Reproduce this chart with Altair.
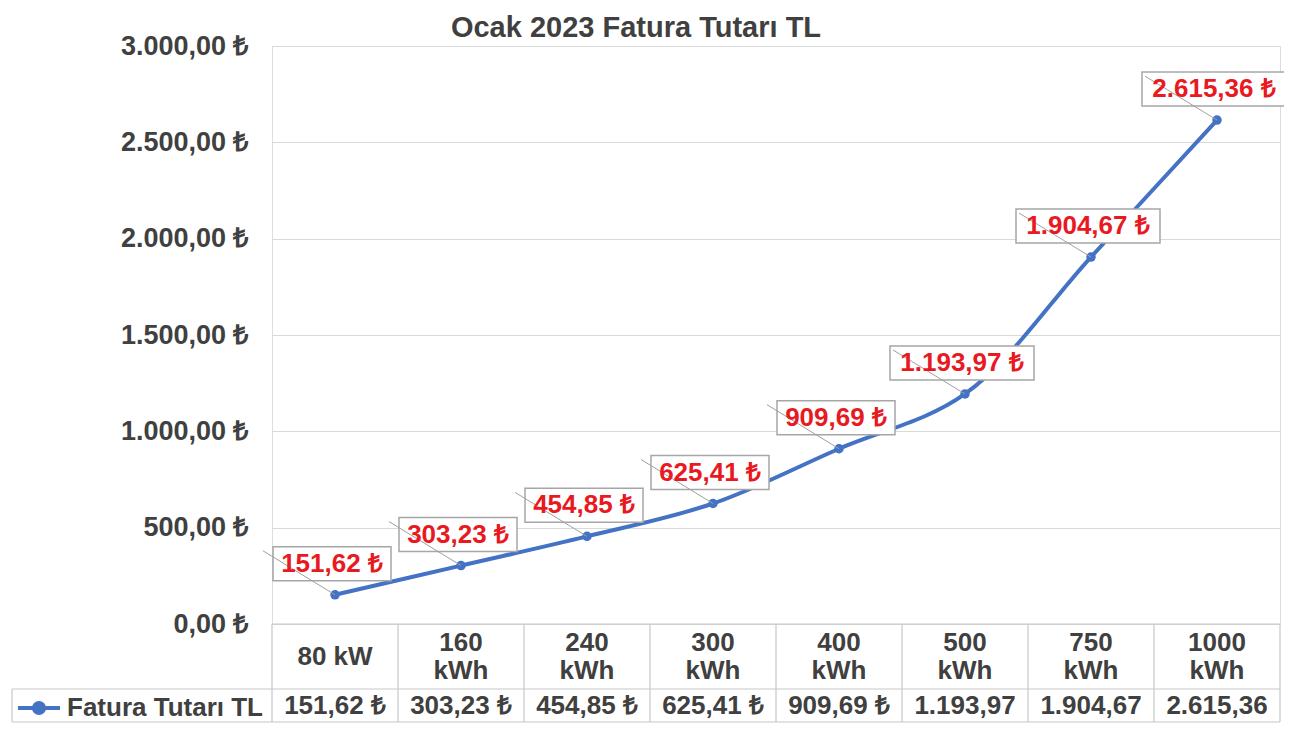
import altair as alt
import pandas as pd

# ---- data -------------------------------------------------------------
categories = ["80 kW", "160\nkWh", "240\nkWh", "300\nkWh", "400\nkWh",
              "500\nkWh", "750\nkWh", "1000\nkWh"]
values = [151.62, 303.23, 454.85, 625.41, 909.69, 1193.97, 1904.67, 2615.36]
table_texts = ["151,62 ₺", "303,23 ₺", "454,85 ₺", "625,41 ₺", "909,69 ₺",
               "1.193,97", "1.904,67", "2.615,36"]
series_name = "Fatura Tutarı TL"
y_ticks = [0, 500, 1000, 1500, 2000, 2500, 3000]
title_text = "Ocak 2023 Fatura Tutarı TL"


def tr_money(v):
    s = f"{v:,.2f}"
    return s.replace(",", "_").replace(".", ",").replace("_", ".") + " ₺"


df = pd.DataFrame({
    "idx": list(range(len(categories))),
    "cat": categories,
    "value": values,
    "label": [tr_money(v) for v in values],
    "table": table_texts,
    "series": [series_name] * len(categories),
})
edges = pd.DataFrame({"e": [i - 0.5 for i in range(len(categories) + 1)]})
one = alt.Data(values=[{"k": 0}])

# ---- layout -----------------------------------------------------------
W, H = 1008, 578
PX = W / len(categories)
FONT = "Liberation Sans"
GRAY = "#404040"
BLUE = "#4472C4"
RED = "#E8191F"
BORDER = "#c8c8c8"
ROW1 = 65
ROW2 = 98
FS = 26
LH = 28

xscale = alt.Scale(domain=[-0.5, len(categories) - 0.5], nice=False, zero=False)
x = alt.X("idx:Q", scale=xscale, axis=None)
y = alt.Y(
    "value:Q",
    scale=alt.Scale(domain=[0, 3000], nice=False),
    axis=alt.Axis(
        values=y_ticks,
        labelExpr="replace(replace(replace(format(datum.value, ',.2f'), ',', '#'), '.', ','), '#', '.') + ' ₺'",
        title=None, domain=False, ticks=False,
        labelFont=FONT, labelFontSize=27, labelFontWeight="bold",
        labelColor=GRAY, labelPadding=24,
        gridColor="#d9d9d9", gridWidth=1.2,
    ),
)

base = alt.Chart(df)

line = base.mark_line(interpolate="catmull-rom", strokeWidth=4).encode(
    x=x, y=y,
    color=alt.Color(
        "series:N",
        scale=alt.Scale(range=[BLUE]),
        legend=alt.Legend(
            title=None, orient="none", legendX=-256, legendY=H + 61,
            symbolType="M-1,0L1,0M0.24,0A0.24,0.24,0,1,1,-0.24,0A0.24,0.24,0,1,1,0.24,0",
            symbolSize=1764, symbolStrokeWidth=4,
            symbolFillColor=BLUE, symbolStrokeColor=BLUE,
            labelFont=FONT, labelFontSize=FS, labelFontWeight="bold",
            labelColor=GRAY, labelOffset=5, labelLimit=400, padding=0,
        ),
    ),
)

points = base.mark_circle(size=90, color=BLUE, opacity=1).encode(x=x, y=y)

boxes = base.transform_calculate(
    hw=f"(length(datum.label) * 13 + 14) / 2 / {PX}",
    xl=f"datum.idx - 3 / {PX} - datum.hw",
    xr=f"datum.idx - 3 / {PX} + datum.hw",
).mark_rect(fill="white", stroke="#a6a6a6", strokeWidth=1.5,
            yOffset=-48, y2Offset=-14).encode(
    x=alt.X("xl:Q", scale=xscale, axis=None), x2="xr:Q",
    y=y, y2="value:Q",
)

leaders = base.mark_rule(color="#a0a0a0", strokeWidth=1,
                         x2Offset=-72, y2Offset=-44).encode(
    x=x, x2="idx:Q", y=y, y2="value:Q"
)

labels = base.mark_text(font=FONT, fontSize=FS, fontWeight="bold", color=RED,
                        dx=-3, dy=-31, baseline="middle", align="center").encode(
    x=x, y=y, text="label:N"
)

# ---- data table under the plot ---------------------------------------
vrules = alt.Chart(edges).mark_rule(color=BORDER, strokeWidth=1.2).encode(
    x=alt.X("e:Q", scale=xscale, axis=None),
    y=alt.value(H), y2=alt.value(H + ROW2),
)
top_rule = alt.Chart(one).mark_rule(color=BORDER, strokeWidth=1.2).encode(
    x=alt.value(0), x2=alt.value(W), y=alt.value(H))
mid_rule = alt.Chart(one).mark_rule(color=BORDER, strokeWidth=1.2).encode(
    x=alt.value(-260), x2=alt.value(W), y=alt.value(H + ROW1))
bot_rule = alt.Chart(one).mark_rule(color=BORDER, strokeWidth=1.2).encode(
    x=alt.value(-260), x2=alt.value(W), y=alt.value(H + ROW2))
left_rule = alt.Chart(one).mark_rule(color=BORDER, strokeWidth=1.2).encode(
    x=alt.value(-260), y=alt.value(H + ROW1), y2=alt.value(H + ROW2))

text_style = dict(font=FONT, fontSize=FS, fontWeight="bold", color=GRAY,
                  baseline="middle", align="center")
header_single = base.transform_filter(
    "indexof(datum.cat, '\\n') < 0"
).mark_text(**text_style).encode(
    x=x, y=alt.value(H + ROW1 / 2), text="cat:N"
)
header_double = base.transform_filter(
    "indexof(datum.cat, '\\n') >= 0"
).mark_text(lineBreak="\n", lineHeight=LH, **text_style).encode(
    x=x, y=alt.value(H + ROW1 / 2 - LH / 2), text="cat:N"
)
value_text = base.mark_text(**text_style).encode(
    x=x, y=alt.value(H + (ROW1 + ROW2) / 2), text="table:N"
)

chart = alt.layer(
    line, points, boxes, leaders, labels,
    vrules, top_rule, mid_rule, bot_rule, left_rule,
    header_single, header_double, value_text,
).properties(
    width=W, height=H,
    title=alt.TitleParams(text=title_text, font=FONT, fontSize=29,
                          fontWeight="bold", color=GRAY, anchor="middle",
                          dx=-140, dy=15),
    autosize=alt.AutoSizeParams(type="none"),
    padding={"left": 264, "top": 38, "right": 4, "bottom": 100},
).configure_view(stroke=None).configure(background="white")

chart.save("out.html", embed_options={"renderer": "svg", "actions": False})
